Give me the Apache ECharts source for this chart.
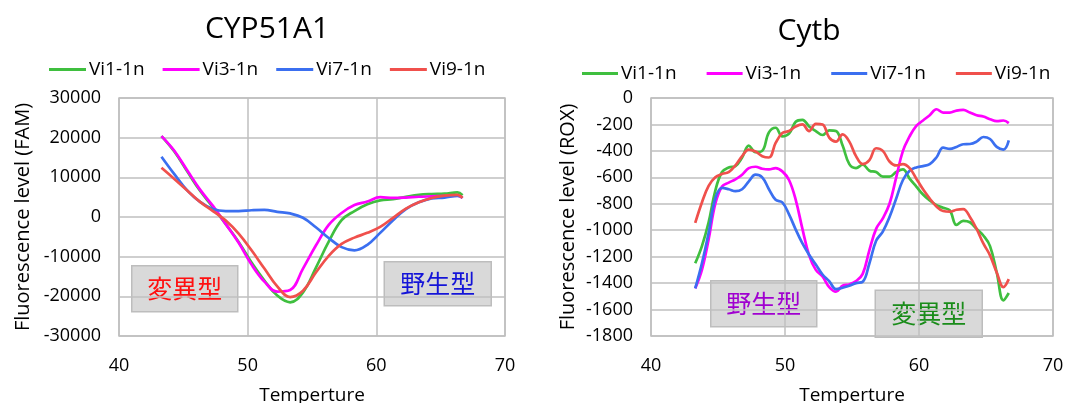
<!DOCTYPE html>
<html>
<head>
<meta charset="utf-8">
<script src="https://cdn.jsdelivr.net/npm/echarts@6/dist/echarts.min.js"></script>
<style>
html,body{margin:0;padding:0;background:#fff;}
#c{width:1066px;height:403px;}
</style>
</head>
<body>
<div id="c"></div>
<script>
// ---------- data ----------
const seriesNames = ['Vi1-1n', 'Vi3-1n', 'Vi7-1n', 'Vi9-1n'];
const xTicks = [40, 50, 60, 70];

// CYP51A1 (FAM)
const tempA = [43.3,44.3,45.3,46.3,47.3,48.3,49.3,50.3,51.3,52.3,53.3,54.3,55.3,56.3,57.3,58.3,59.3,60.3,61.3,62.3,63.3,64.3,65.3,66.3,66.7];
const famVi1 = [20400,16500,11500,6600,2500,-1800,-6300,-11500,-16000,-19800,-21500,-19000,-12800,-6200,-800,1500,3200,4200,4500,5100,5600,5800,5900,6200,5500];
const famVi3 = [20400,16700,11800,6900,2800,-1800,-6500,-12000,-16300,-18800,-18400,-13000,-7200,-2000,1000,3000,3900,5000,4800,4900,5100,5200,5300,5400,4800];
const famVi7 = [15200,10800,6700,3800,2000,1500,1500,1700,1800,1300,900,-200,-2600,-5300,-7600,-8400,-7000,-4000,-800,2000,3700,4700,4900,5300,4900];
const famVi9 = [12400,9600,6700,3800,1500,-900,-4200,-8400,-13000,-17500,-20200,-18600,-14000,-9800,-6800,-5200,-4000,-2500,-200,2100,3700,4800,5400,5600,4800];

// Cytb (ROX)
const tempB = [43.3,43.8,44.3,44.8,45.3,45.8,46.3,46.8,47.3,47.8,48.3,48.8,49.3,49.8,50.3,50.8,51.3,51.8,52.3,52.8,53.3,53.8,54.3,54.8,55.3,55.8,56.3,56.8,57.3,57.8,58.3,58.8,59.3,59.8,60.3,60.8,61.3,61.8,62.3,62.8,63.3,63.8,64.3,64.8,65.3,65.8,66.3,66.7];
const roxVi1 = [-1250,-1120,-940,-700,-560,-525,-515,-450,-360,-410,-400,-260,-225,-290,-270,-180,-165,-215,-250,-280,-245,-250,-360,-500,-530,-505,-550,-560,-595,-595,-560,-540,-610,-670,-730,-775,-810,-830,-850,-960,-930,-940,-990,-1040,-1120,-1320,-1530,-1475];
const roxVi3 = [-1440,-1300,-1070,-800,-670,-640,-615,-580,-530,-520,-535,-540,-530,-555,-620,-770,-990,-1190,-1300,-1350,-1430,-1465,-1420,-1410,-1385,-1330,-1150,-990,-910,-800,-600,-400,-290,-210,-170,-130,-85,-110,-110,-95,-90,-110,-130,-140,-160,-175,-170,-190];
const roxVi7 = [-1440,-1250,-1020,-760,-680,-690,-705,-690,-630,-580,-600,-690,-770,-790,-880,-995,-1100,-1185,-1260,-1335,-1385,-1445,-1435,-1420,-1400,-1390,-1250,-1080,-1010,-900,-760,-620,-550,-525,-515,-500,-450,-375,-385,-370,-350,-348,-330,-295,-310,-370,-390,-320];
const roxVi9 = [-945,-790,-665,-600,-575,-560,-510,-440,-390,-405,-440,-450,-340,-265,-250,-215,-200,-250,-195,-200,-300,-330,-275,-330,-440,-500,-470,-380,-400,-480,-510,-500,-530,-610,-690,-760,-820,-855,-860,-845,-840,-900,-990,-1100,-1190,-1320,-1430,-1370];

const colors = ['#3fbf3f', '#ff00ff', '#3b6ff0', '#f0504c'];

// ---------- chart ----------
const chart = echarts.init(document.getElementById('c'), null, {renderer: 'canvas'});
const FONT = 'Open Sans';
const zip = (xs, ys) => xs.map((x, i) => [x, ys[i]]);

function mkSeries(idx, xs, list) {
  return list.map((ys, i) => ({
    name: seriesNames[i], type: 'line', xAxisIndex: idx, yAxisIndex: idx,
    data: zip(xs, ys), smooth: 0.4, showSymbol: false, symbol: 'none',
    lineStyle: {width: 2.7, color: colors[i]}, itemStyle: {color: colors[i]},
    animation: false
  }));
}

function xAx(idx) {
  return {
    type: 'value', gridIndex: idx, min: xTicks[0], max: xTicks[xTicks.length - 1], interval: 10,
    name: 'Temperture', nameLocation: 'middle', nameGap: 50,
    nameTextStyle: {fontFamily: FONT, fontSize: 19, color: '#000'},
    axisLine: {show: false}, axisTick: {show: false},
    axisLabel: {fontFamily: FONT, fontSize: 18, color: '#000', margin: 21, formatter: v => String(v)},
    splitLine: {lineStyle: {color: '#bfbfbf', width: 1.5}}
  };
}
function yAx(idx, min, max, interval, name, gap) {
  return {
    type: 'value', gridIndex: idx, min: min, max: max, interval: interval,
    name: name, nameLocation: 'middle', nameGap: gap,
    nameTextStyle: {fontFamily: FONT, fontSize: 20, color: '#000'},
    axisLine: {show: false}, axisTick: {show: false},
    axisLabel: {fontFamily: FONT, fontSize: 18, color: '#000', margin: 18, formatter: v => String(v)},
    splitLine: {lineStyle: {color: '#bfbfbf', width: 1.5}}
  };
}

function labelBox(cx, cy, w, h, text, color) {
  return {
    type: 'group', left: cx - w / 2, top: cy - h / 2, z: 100,
    children: [
      {type: 'rect', shape: {x: 0, y: 0, width: w, height: h},
       style: {fill: '#d9d9d9', stroke: '#bdbdbd', lineWidth: 1.5}},
      {type: 'text', x: w / 2, y: h / 2,
       style: {text: text, fill: color, font: '25px "Noto Sans CJK JP"', textAlign: 'center', textVerticalAlign: 'middle'}}
    ]
  };
}

const option = {
  backgroundColor: '#fff',
  animation: false,
  title: [
    {text: 'CYP51A1', left: 262, top: 9, textAlign: 'center',
     textStyle: {fontFamily: FONT, fontSize: 30, fontWeight: 'normal', color: '#000'}},
    {text: 'Cytb', left: 804, top: 11, textAlign: 'center',
     textStyle: {fontFamily: FONT, fontSize: 30, fontWeight: 'normal', color: '#000'}}
  ],
  legend: [
    {data: seriesNames, left: 44, top: 55, itemWidth: 37, itemHeight: 3, itemGap: 18,
     icon: 'rect', textStyle: {fontFamily: FONT, fontSize: 19, color: '#000', padding: [0, 0, 0, -2]}},
    {data: seriesNames, left: 577, top: 59, itemWidth: 36, itemHeight: 3, itemGap: 30,
     icon: 'rect', textStyle: {fontFamily: FONT, fontSize: 19, color: '#000', padding: [0, 0, 0, -2]}}
  ],
  grid: [
    {left: 119, top: 98, width: 386, height: 238, show: true, borderColor: '#bfbfbf', borderWidth: 1.5,
     containLabel: false, outerBoundsMode: 'none'},
    {left: 651, top: 98, width: 402, height: 238, show: true, borderColor: '#bfbfbf', borderWidth: 1.5,
     containLabel: false, outerBoundsMode: 'none'}
  ],
  xAxis: [xAx(0), xAx(1)],
  yAxis: [
    yAx(0, -30000, 30000, 10000, 'Fluorescence level (FAM)', 86),
    yAx(1, -1800, 0, 200, 'Fluorescence level (ROX)', 73)
  ],
  series: [].concat(
    mkSeries(0, tempA, [famVi1, famVi3, famVi7, famVi9]),
    mkSeries(1, tempB, [roxVi1, roxVi3, roxVi7, roxVi9])
  ),
  graphic: [
    labelBox(184, 288, 106, 46, '変異型', '#ff1010'),
    labelBox(437, 283, 107, 44, '野生型', '#1414d8'),
    labelBox(763, 303, 106, 46, '野生型', '#a000d0'),
    labelBox(928, 313, 107, 47, '変異型', '#1a8c1a')
  ]
};
chart.setOption(option);
</script>
</body>
</html>
